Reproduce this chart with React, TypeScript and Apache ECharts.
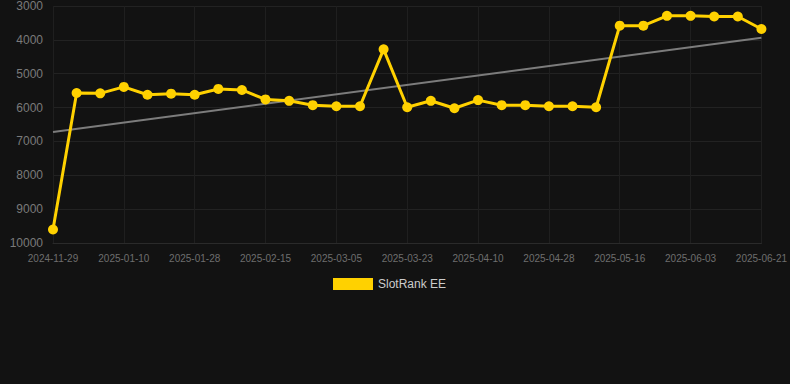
import React, { useEffect, useRef } from "react";
import * as echarts from "echarts";

const categories: string[] = [
  "2024-11-29", "2024-12-29", "2025-01-04", "2025-01-10", "2025-01-16", "2025-01-22",
  "2025-01-28", "2025-02-03", "2025-02-09", "2025-02-15", "2025-02-21", "2025-02-27",
  "2025-03-05", "2025-03-11", "2025-03-17", "2025-03-23", "2025-03-29", "2025-04-04",
  "2025-04-10", "2025-04-16", "2025-04-22", "2025-04-28", "2025-05-04", "2025-05-10",
  "2025-05-16", "2025-05-22", "2025-05-28", "2025-06-03", "2025-06-09", "2025-06-15",
  "2025-06-21",
];

const rankValues: number[] = [
  9600, 5570, 5580, 5390, 5620, 5590, 5620, 5450, 5480, 5760, 5800, 5930,
  5960, 5960, 4280, 5990, 5800, 6020, 5780, 5930, 5930, 5960, 5960, 5990,
  3580, 3580, 3290, 3290, 3310, 3310, 3680,
];

const trendStart = 6720;
const trendEnd = 3940;

const yTicks = { min: 3000, max: 10000, interval: 1000 };

const FONT = "'Liberation Sans', Arial, sans-serif";

export default function App() {
  const ref = useRef<HTMLDivElement>(null);
  useEffect(() => {
    document.body.style.margin = "0";
    const chart = echarts.init(ref.current!, undefined, { renderer: "svg" });
    const trendData = categories.map((_, i) =>
      i === 0 ? trendStart : i === categories.length - 1 ? trendEnd : null
    );
    chart.setOption({
      animation: false,
      backgroundColor: "#121212",
      grid: { left: 53, right: 28, top: 6, bottom: 141 },
      legend: {
        show: true,
        top: 273,
        left: 328,
        data: [{ name: "SlotRank EE", icon: "rect" }],
        itemWidth: 40,
        itemHeight: 12,
        textStyle: { color: "#cccccc", fontSize: 12, fontFamily: FONT },
      },
      xAxis: {
        type: "category",
        data: categories,
        boundaryGap: false,
        axisLine: { show: true, lineStyle: { color: "#2a2a2a" } },
        axisTick: { show: false },
        axisLabel: {
          interval: 2,
          color: "#6e6e6e",
          fontSize: 10,
          margin: 10,
          fontFamily: FONT,
        },
        splitLine: { show: true, interval: 2, lineStyle: { color: "#1f1f1f" } },
      },
      yAxis: {
        type: "value",
        inverse: true,
        min: yTicks.min,
        max: yTicks.max,
        interval: yTicks.interval,
        axisLine: { show: false },
        axisTick: { show: false },
        axisLabel: {
          color: "#7a7a7a",
          fontSize: 12,
          margin: 10,
          fontFamily: FONT,
          formatter: (v: number) => String(v),
        },
        splitLine: { show: true, lineStyle: { color: "#222222" } },
      },
      series: [
        {
          name: "Trend",
          type: "line",
          data: trendData,
          connectNulls: true,
          showSymbol: false,
          symbol: "none",
          lineStyle: { color: "#7c7c7c", width: 2 },
          itemStyle: { color: "#7c7c7c" },
          z: 1,
        },
        {
          name: "SlotRank EE",
          type: "line",
          data: rankValues,
          symbol: "circle",
          symbolSize: 10,
          lineStyle: { color: "#FFD100", width: 3 },
          itemStyle: { color: "#FFD100" },
          z: 2,
        },
      ],
    });
    return () => chart.dispose();
  }, []);
  return <div ref={ref} style={{ width: 790, height: 384 }} />;
}
